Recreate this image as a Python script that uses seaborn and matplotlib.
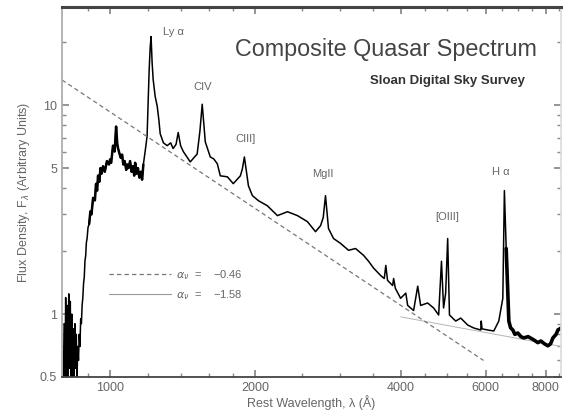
import numpy as np
import pandas as pd
import matplotlib
matplotlib.use("Agg")
import matplotlib.pyplot as plt
import seaborn as sns
from matplotlib.lines import Line2D
from matplotlib.ticker import FixedLocator, FixedFormatter, NullFormatter

# composite spectrum (rest wavelength in Angstrom, flux arbitrary)
wave = [800, 803, 806, 809, 812, 815, 818, 821, 824, 827, 830, 833, 836, 839, 842, 845,
        848, 851, 854, 857, 860, 863, 866, 869, 872, 875, 878, 881, 884, 887, 890, 893,
        896, 900, 905, 910, 915, 922, 930, 935, 940, 944, 950, 955, 960, 967, 975, 985,
        995, 1000, 1005, 1014, 1022, 1029, 1035, 1039, 1045, 1052, 1059, 1065, 1072, 1080,
        1085, 1092, 1100, 1108, 1115, 1122, 1127, 1135, 1142, 1150, 1158, 1165, 1172, 1182,
        1193, 1199, 1205, 1211, 1216, 1222, 1228, 1240, 1252, 1262, 1270, 1290, 1313, 1335,
        1351, 1370, 1384, 1400, 1418, 1466, 1515, 1535, 1552, 1575, 1613, 1640, 1668, 1692,
        1750, 1800, 1862, 1880, 1898, 1935, 1972, 2029, 2118, 2222, 2331, 2445, 2564, 2665,
        2730, 2765, 2795, 2835, 2904, 3003, 3120, 3226, 3352, 3433, 3516, 3636, 3700, 3727,
        3758, 3850, 3869, 3900, 4000, 4100, 4137, 4256, 4340, 4401, 4550, 4682, 4796, 4861,
        4910, 4959, 5007, 5050, 5203, 5329, 5510, 5670, 5863, 5876, 5900, 6063, 6239, 6390,
        6514, 6563, 6620, 6704, 6760, 6833, 6900, 6998, 7100, 7201, 7350, 7554, 7700, 7812,
        7950, 8077, 8180, 8273, 8400, 8472, 8600]
flux = [0.45, 0.9, 0.45, 1.2, 0.5, 1.1, 0.45, 1.25, 0.55, 1.15, 0.5, 1.0, 0.48, 0.85, 0.5, 0.9,
        0.55, 0.8, 0.5, 0.7, 0.6, 0.8, 0.7, 0.95, 0.9, 1.1, 1.2, 1.4, 1.5, 1.8, 1.9, 2.2,
        2.3, 2.6, 2.7, 3.1, 3.0, 3.6, 3.5, 4.2, 3.9, 4.6, 4.3, 5.0, 4.7, 5.1, 4.8, 5.4,
        5.2, 5.5, 5.3, 6.4, 6.0, 7.9, 6.5, 6.2, 5.9, 5.6, 5.8, 5.2, 5.4, 4.9,
        5.2, 5.0, 5.4, 4.8, 5.1, 4.6, 5.3, 4.7, 5.0, 4.5, 4.8, 4.4, 5.2, 6.0,
        7.1, 10.3, 14.8, 19.0, 21.3, 16.0, 13.3, 11.0, 9.9, 8.5, 7.3, 6.6, 6.4, 6.6,
        6.2, 6.5, 7.4, 6.4, 6.0, 5.35, 5.84, 7.5, 10.1, 6.67, 5.65, 5.53, 5.24, 4.59,
        4.54, 4.21, 4.59, 4.96, 5.65, 4.11, 3.69, 3.49, 3.30, 2.96, 3.09, 2.96, 2.77, 2.48,
        2.65, 2.9, 3.69, 2.57, 2.30, 2.18, 2.02, 2.06, 1.91, 1.79, 1.66, 1.53, 1.48, 1.71,
        1.45, 1.37, 1.48, 1.33, 1.19, 1.26, 1.10, 1.04, 1.36, 1.10, 1.13, 1.07, 0.99, 1.79,
        1.07, 1.26, 2.30, 0.99, 0.926, 0.957, 0.886, 0.858, 0.839, 0.926, 0.85, 0.839, 0.83, 0.926,
        1.19, 3.9, 2.06, 0.926, 0.86, 0.839, 0.80, 0.812, 0.78, 0.769, 0.78, 0.752, 0.73, 0.743,
        0.72, 0.705, 0.72, 0.769, 0.80, 0.839, 0.858]

# power-law continua (end points)
pl1_wave = [795, 5940]
pl1_flux = [13.2, 0.60]
pl2_wave = [4000, 8600]
pl2_flux = [0.97, 0.70]
pl_labels = ["$\\alpha_\\nu$  =    \u22120.46", "$\\alpha_\\nu$  =    \u22121.58"]

# emission line labels
line_names = ["Ly \u03b1", "CIV", "CIII]", "MgII", "[OIII]", "H \u03b1"]
line_wave = [1351, 1552, 1906, 2755, 5004, 6451]
line_flux = [22.5, 12.2, 6.9, 4.69, 2.93, 4.79]

sns.set_theme(style="ticks")
plt.rcParams['font.family'] = ['Liberation Sans', 'DejaVu Sans']
txt = "#666666"

fig = plt.figure(figsize=(5.69, 4.12), dpi=100)
ax = fig.add_axes([0.109, 0.085, 0.877, 0.898])

spec = pd.DataFrame({"wave": wave, "flux": flux})
sns.lineplot(data=spec, x="wave", y="flux", sort=False, estimator=None,
             color="black", lw=1.1, ax=ax)
red = spec[spec["wave"] >= 6620]
sns.lineplot(data=red, x="wave", y="flux", sort=False, estimator=None,
             color="black", lw=2.6, ax=ax)
blue = spec[(spec["wave"] >= 905) & (spec["wave"] <= 1172)]
sns.lineplot(data=blue, x="wave", y="flux", sort=False, estimator=None,
             color="black", lw=1.8, ax=ax)

ax.plot(pl1_wave, pl1_flux, color="#777777", lw=0.9, ls=(0, (3.5, 2.5)))
ax.plot(pl2_wave, pl2_flux, color="#b5b5b5", lw=0.7, zorder=1)

ax.set_xscale("log")
ax.set_yscale("log")
ax.set_xlim(795, 8600)
ax.set_ylim(0.5, 29.5)

for name, w, f in zip(line_names, line_wave, line_flux):
    ax.text(w, f, name, ha="center", va="center", fontsize=8, color=txt)

ax.xaxis.set_major_locator(FixedLocator([1000, 2000, 4000, 6000, 8000]))
ax.xaxis.set_major_formatter(FixedFormatter(["1000", "2000", "4000", "6000", "8000"]))
ax.xaxis.set_minor_locator(FixedLocator([900, 1200, 1400, 1600, 1800, 2500, 3000, 3500,
                                         4500, 5000, 5500, 6500, 7000, 7500, 8500]))
ax.xaxis.set_minor_formatter(NullFormatter())
ax.yaxis.set_major_locator(FixedLocator([0.5, 1, 5, 10]))
ax.yaxis.set_major_formatter(FixedFormatter(["0.5", "1", "5", "10"]))
ax.yaxis.set_minor_locator(FixedLocator([0.6, 0.7, 0.8, 0.9, 2, 3, 4, 6, 7, 8, 9, 20]))
ax.yaxis.set_minor_formatter(NullFormatter())
ax.tick_params(which="both", direction="in", top=True, right=True, colors="#888888",
               labelcolor=txt, labelsize=9)
ax.tick_params(which="major", length=5)
ax.tick_params(which="minor", length=3)

ax.spines["top"].set_linewidth(2.2)
ax.spines["top"].set_color("#444444")
ax.spines["bottom"].set_linewidth(1.3)
ax.spines["bottom"].set_color("#444444")
ax.spines["left"].set_color("#aaaaaa")
ax.spines["right"].set_color("#dddddd")

ax.set_xlabel("Rest Wavelength, \u03bb (\u00c5)", fontsize=9, color=txt, labelpad=1)
ax.set_ylabel("Flux Density, F$_\\lambda$ (Arbitrary Units)", fontsize=9, color=txt, labelpad=6)

handles = [Line2D([], [], color="#777777", lw=0.9, ls=(0, (3.5, 2.5))),
           Line2D([], [], color="#999999", lw=0.8)]
ax.legend(handles, pl_labels, loc="upper left", bbox_to_anchor=(0.075, 0.322),
          frameon=False, fontsize=8, handlelength=5.5, handletextpad=0.5,
          labelspacing=0.6, labelcolor=txt)

ax.text(0.65, 0.885, "Composite Quasar Spectrum", transform=ax.transAxes,
        ha="center", va="center", fontsize=16.8, color="#444444")
ax.text(0.772, 0.80, "Sloan Digital Sky Survey", transform=ax.transAxes,
        ha="center", va="center", fontsize=9.5, fontweight="bold", color="#333333")

fig.savefig("out.png", dpi=100)
